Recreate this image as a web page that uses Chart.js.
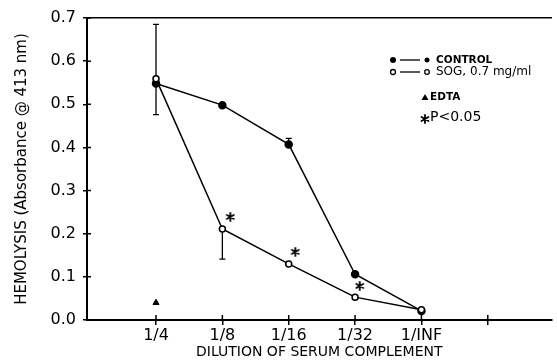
<!DOCTYPE html>
<html>
<head>
<meta charset="utf-8">
<script src="https://cdn.jsdelivr.net/npm/chart.js@4"></script>
<style>
  html, body { margin: 0; padding: 0; background: #fff; overflow: hidden; }
  #wrap { width: 557px; height: 362px; }
</style>
</head>
<body>
<div id="wrap"><canvas id="hemolysisChart"></canvas></div>
<script>
const dilutions = ['1/4', '1/8', '1/16', '1/32', '1/INF'];
const controlData = [0.548, 0.498, 0.407, 0.106, 0.021];
const sogData = [0.559, 0.211, 0.130, 0.053, 0.024];
const edtaData = [0.04];

// error bars: x position (1-based dilution index), low, high
const errX = [1, 2, 3];
const errLow = [0.476, 0.141, 0.407];
const errHigh = [0.685, 0.211, 0.421];

// significance asterisks
const starX = [2.12, 3.1, 4.07];
const starY = [0.239, 0.158, 0.079];

const yTicks = [0, 0.1, 0.2, 0.3, 0.4, 0.5, 0.6, 0.7];

const FONT = '"DejaVu Sans", sans-serif';

const toPoints = arr => arr.map((v, i) => ({ x: i + 1, y: v }));

// six-armed asterisk used as a point style
function makeAsterisk(size) {
  const c = document.createElement('canvas');
  c.width = size;
  c.height = size;
  const g = c.getContext('2d');
  const m = size / 2;
  g.strokeStyle = '#000';
  g.lineWidth = 1.8;
  g.lineCap = 'round';
  g.beginPath();
  [90, 30, 150].forEach(deg => {
    const a = deg * Math.PI / 180;
    const r = m - 1;
    g.moveTo(m - r * Math.cos(a), m - r * Math.sin(a));
    g.lineTo(m + r * Math.cos(a), m + r * Math.sin(a));
  });
  g.stroke();
  return c;
}
const asterisk = makeAsterisk(10);

const errorBarsPlugin = {
  id: 'errorBars',
  beforeDatasetsDraw(chart) {
    const { ctx, scales: { x, y } } = chart;
    ctx.save();
    ctx.strokeStyle = '#000';
    ctx.lineWidth = 1.3;
    errX.forEach((v, i) => {
      const px = x.getPixelForValue(v);
      const y1 = y.getPixelForValue(errLow[i]);
      const y2 = y.getPixelForValue(errHigh[i]);
      ctx.beginPath();
      ctx.moveTo(px, y1);
      ctx.lineTo(px, y2);
      ctx.moveTo(px - 3, y1);
      ctx.lineTo(px + 3, y1);
      ctx.moveTo(px - 3, y2);
      ctx.lineTo(px + 3, y2);
      ctx.stroke();
    });
    ctx.restore();
  },
  afterDraw(chart) {
    // tick stubs reaching inside the plot
    const { ctx, chartArea, scales: { x, y } } = chart;
    ctx.save();
    ctx.strokeStyle = '#000';
    ctx.lineWidth = 1.5;
    ctx.beginPath();
    yTicks.forEach(v => {
      const py = y.getPixelForValue(v);
      ctx.moveTo(chartArea.left, py);
      ctx.lineTo(chartArea.left + 4, py);
    });
    [1, 2, 3, 4, 5, 6].forEach(v => {
      const px = x.getPixelForValue(v);
      ctx.moveTo(px, chartArea.bottom);
      ctx.lineTo(px, chartArea.bottom - 5);
    });
    ctx.stroke();
    ctx.restore();
  }
};

const legendPlugin = {
  id: 'customLegend',
  afterDraw(chart) {
    const ctx = chart.ctx;
    ctx.save();
    ctx.fillStyle = '#000';
    ctx.strokeStyle = '#000';
    ctx.lineWidth = 1.3;
    // control row
    ctx.beginPath(); ctx.arc(393, 60, 3, 0, Math.PI * 2); ctx.fill();
    ctx.beginPath(); ctx.moveTo(400, 60); ctx.lineTo(420, 60); ctx.stroke();
    ctx.beginPath(); ctx.arc(427, 60, 2.5, 0, Math.PI * 2); ctx.fill();
    // sog row
    ctx.fillStyle = '#fff';
    ctx.beginPath(); ctx.arc(393, 72, 2.5, 0, Math.PI * 2); ctx.fill(); ctx.stroke();
    ctx.beginPath(); ctx.moveTo(400, 72); ctx.lineTo(420, 72); ctx.stroke();
    ctx.beginPath(); ctx.arc(427, 72, 2.3, 0, Math.PI * 2); ctx.fill(); ctx.stroke();
    ctx.fillStyle = '#000';
    // edta triangle
    ctx.beginPath(); ctx.moveTo(425, 94); ctx.lineTo(428.5, 100); ctx.lineTo(421.5, 100); ctx.closePath(); ctx.fill();
    // asterisk
    ctx.drawImage(asterisk, 420, 114);

    ctx.textBaseline = 'middle';
    ctx.textAlign = 'left';
    ctx.font = 'bold 10.5px ' + FONT;
    ctx.fillText('CONTROL', 436, 60);
    ctx.font = '12px ' + FONT;
    ctx.fillText('SOG, 0.7 mg/ml', 436, 72);
    ctx.font = 'bold 10.5px ' + FONT;
    ctx.fillText('EDTA', 430, 97);
    ctx.font = '14px ' + FONT;
    ctx.fillText('P<0.05', 430, 117);
    ctx.restore();
  }
};

const ctx = document.getElementById('hemolysisChart').getContext('2d');
new Chart(ctx, {
  type: 'scatter',
  data: {
    datasets: [
      {
        label: 'SOG, 0.7 mg/ml',
        data: toPoints(sogData),
        showLine: true,
        borderColor: '#000',
        backgroundColor: '#fff',
        borderWidth: 1.5,
        pointRadius: 3,
        pointBorderWidth: 1.5,
        order: 0
      },
      {
        label: 'CONTROL',
        data: toPoints(controlData),
        showLine: true,
        borderColor: '#000',
        backgroundColor: '#000',
        borderWidth: 1.5,
        pointRadius: 3.5,
        order: 1
      },
      {
        label: 'EDTA',
        data: toPoints(edtaData),
        pointStyle: 'triangle',
        backgroundColor: '#000',
        borderColor: '#000',
        pointRadius: 3.5,
        order: 2
      },
      {
        label: 'P<0.05',
        data: starX.map((v, i) => ({ x: v, y: starY[i] })),
        pointStyle: asterisk,
        order: 3
      }
    ]
  },
  options: {
    responsive: true,
    maintainAspectRatio: false,
    animation: false,
    events: [],
    layout: { padding: { top: 18, right: 0, left: 0, bottom: 0 } },
    plugins: {
      legend: { display: false },
      tooltip: { enabled: false }
    },
    scales: {
      x: {
        type: 'linear',
        min: -0.04,
        max: 6.96,
        afterFit: s => { s.height = 42; s.paddingLeft = 0; s.paddingRight = 0; },
        afterBuildTicks: s => { s.ticks = [1, 2, 3, 4, 5, 6].map(v => ({ value: v })); },
        border: { color: '#000', width: 2 },
        grid: { drawOnChartArea: false, color: '#000', lineWidth: 1.5, tickLength: 5 },
        ticks: {
          color: '#000',
          padding: 1,
          maxRotation: 0,
          autoSkip: false,
          font: { family: FONT, size: 16 },
          callback: v => dilutions[v - 1] ?? ''
        },
        title: {
          display: true,
          text: 'DILUTION OF SERUM COMPLEMENT',
          color: '#000',
          font: { family: FONT, size: 14 },
          padding: { top: 0, bottom: 1 }
        }
      },
      xTop: {
        type: 'linear',
        position: 'top',
        min: 0,
        max: 7,
        afterFit: s => { s.height = 0; s.paddingLeft = 0; s.paddingRight = 0; },
        border: { color: '#000', width: 1.5 },
        grid: { display: false },
        ticks: { display: false }
      },
      y: {
        min: 0,
        max: 0.7,
        afterFit: s => { s.width = 87; s.paddingTop = 0; s.paddingBottom = 0; },
        afterBuildTicks: s => { s.ticks = yTicks.map(v => ({ value: v })); },
        border: { color: '#000', width: 2 },
        grid: { drawOnChartArea: false, color: '#000', lineWidth: 1.5, tickLength: 4 },
        ticks: {
          color: '#000',
          padding: 7,
          font: { family: FONT, size: 16 },
          callback: v => Number(v).toFixed(1)
        },
        title: {
          display: true,
          text: 'HEMOLYSIS (Absorbance @ 413 nm)',
          color: '#000',
          font: { family: FONT, size: 15 },
          padding: { top: 13, bottom: 0 }
        }
      }
    }
  },
  plugins: [errorBarsPlugin, legendPlugin]
});
</script>
</body>
</html>
